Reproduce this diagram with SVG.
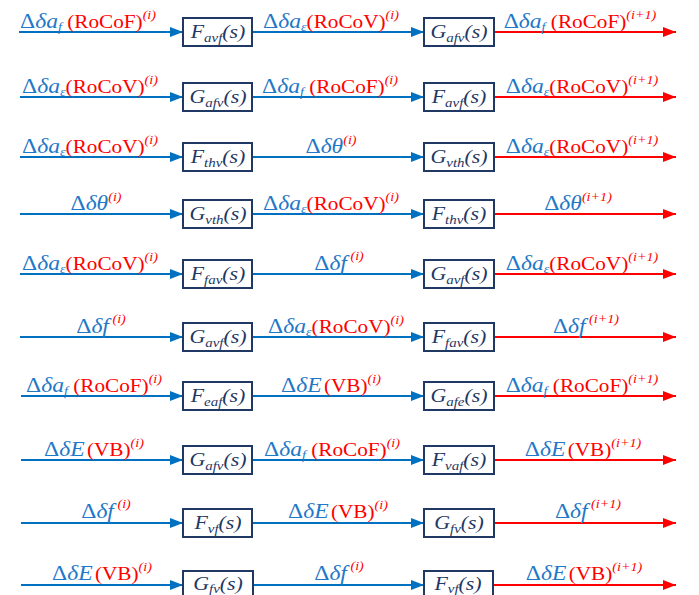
<svg xmlns="http://www.w3.org/2000/svg" width="699" height="595" viewBox="0 0 699 595">
<style>
.bg{fill:#ffffff}
.lnb{stroke:#0070C0;stroke-width:1.8;fill:none;marker-end:url(#ab)}
.lnr{stroke:#FF0000;stroke-width:1.8;fill:none;marker-end:url(#ar)}
.box{fill:#ffffff;stroke:#1F3864;stroke-width:2}
.bx{font-family:"Liberation Serif","Times New Roman",serif;font-style:italic;font-size:19px;fill:#1F3864}
.bx .sb{font-size:13px}
.lb{font-family:"Liberation Serif","Times New Roman",serif;font-size:18px}
.m{font-size:20px}
.b{fill:#1F78C8}
.r{fill:#FF0000}
.i{font-style:italic}
.sb{font-size:12px}
.sp{font-size:12px}
</style>
<defs>
<marker id="ab" markerUnits="userSpaceOnUse" markerWidth="13" markerHeight="10" refX="13" refY="5" orient="auto"><path d="M0,0 L13,5 L0,10 z" fill="#0070C0"/></marker>
<marker id="ar" markerUnits="userSpaceOnUse" markerWidth="13" markerHeight="10" refX="13" refY="5" orient="auto"><path d="M0,0 L13,5 L0,10 z" fill="#FF0000"/></marker>
</defs>
<rect class="bg" x="0" y="0" width="699" height="595"/>

<g id="connectors">
<line class="lnb" x1="19" y1="32" x2="183" y2="32"/>
<line class="lnb" x1="252" y1="32" x2="424" y2="32"/>
<line class="lnr" x1="494" y1="32" x2="676" y2="32"/>
<line class="lnb" x1="20" y1="97" x2="183" y2="97"/>
<line class="lnb" x1="252" y1="97" x2="424" y2="97"/>
<line class="lnr" x1="494" y1="97" x2="676" y2="97"/>
<line class="lnb" x1="20" y1="157" x2="183" y2="157"/>
<line class="lnb" x1="252" y1="157" x2="424" y2="157"/>
<line class="lnr" x1="494" y1="157" x2="676" y2="157"/>
<line class="lnb" x1="20" y1="214" x2="183" y2="214"/>
<line class="lnb" x1="252" y1="214" x2="424" y2="214"/>
<line class="lnr" x1="494" y1="214" x2="676" y2="214"/>
<line class="lnb" x1="20" y1="274" x2="183" y2="274"/>
<line class="lnb" x1="252" y1="274" x2="424" y2="274"/>
<line class="lnr" x1="494" y1="274" x2="676" y2="274"/>
<line class="lnb" x1="20" y1="337" x2="183" y2="337"/>
<line class="lnb" x1="252" y1="337" x2="424" y2="337"/>
<line class="lnr" x1="494" y1="337" x2="676" y2="337"/>
<line class="lnb" x1="21" y1="396" x2="183" y2="396"/>
<line class="lnb" x1="252" y1="396" x2="424" y2="396"/>
<line class="lnr" x1="494" y1="396" x2="676" y2="396"/>
<line class="lnb" x1="21" y1="460" x2="183" y2="460"/>
<line class="lnb" x1="252" y1="460" x2="424" y2="460"/>
<line class="lnr" x1="494" y1="460" x2="676" y2="460"/>
<line class="lnb" x1="21" y1="523" x2="183" y2="523"/>
<line class="lnb" x1="252" y1="523" x2="424" y2="523"/>
<line class="lnr" x1="494" y1="523" x2="676" y2="523"/>
<line class="lnb" x1="21" y1="585" x2="183" y2="585"/>
<line class="lnb" x1="252" y1="585" x2="424" y2="585"/>
<line class="lnr" x1="494" y1="585" x2="676" y2="585"/>

<!-- row 1 -->
<text class="lb" text-anchor="middle" transform="translate(88,28) scale(1.18,1)"><tspan class="b m">Δ</tspan><tspan class="b i m">δa</tspan><tspan class="b i sb" dy="3">f</tspan><tspan class="r" dy="-3"> (RoCoF)</tspan><tspan class="r i sp" dy="-9">(i)</tspan></text>
<text class="lb" text-anchor="middle" transform="translate(331,28) scale(1.18,1)"><tspan class="b m">Δ</tspan><tspan class="b i m">δa</tspan><tspan class="b i sb" dy="3">ε</tspan><tspan class="r" dy="-3">(RoCoV)</tspan><tspan class="r i sp" dy="-9">(i)</tspan></text>
<text class="lb" text-anchor="middle" transform="translate(580,28) scale(1.18,1)"><tspan class="b m">Δ</tspan><tspan class="b i m">δa</tspan><tspan class="b i sb" dy="3">f</tspan><tspan class="r" dy="-3"> (RoCoF)</tspan><tspan class="r i sp" dy="-9">(i+1)</tspan></text>
<!-- row 2 -->
<text class="lb" text-anchor="middle" transform="translate(90,93) scale(1.18,1)"><tspan class="b m">Δ</tspan><tspan class="b i m">δa</tspan><tspan class="b i sb" dy="3">ε</tspan><tspan class="r" dy="-3">(RoCoV)</tspan><tspan class="r i sp" dy="-9">(i)</tspan></text>
<text class="lb" text-anchor="middle" transform="translate(330,93) scale(1.18,1)"><tspan class="b m">Δ</tspan><tspan class="b i m">δa</tspan><tspan class="b i sb" dy="3">f</tspan><tspan class="r" dy="-3"> (RoCoF)</tspan><tspan class="r i sp" dy="-9">(i)</tspan></text>
<text class="lb" text-anchor="middle" transform="translate(582,93) scale(1.18,1)"><tspan class="b m">Δ</tspan><tspan class="b i m">δa</tspan><tspan class="b i sb" dy="3">ε</tspan><tspan class="r" dy="-3">(RoCoV)</tspan><tspan class="r i sp" dy="-9">(i+1)</tspan></text>
<!-- row 3 -->
<text class="lb" text-anchor="middle" transform="translate(90,153) scale(1.18,1)"><tspan class="b m">Δ</tspan><tspan class="b i m">δa</tspan><tspan class="b i sb" dy="3">ε</tspan><tspan class="r" dy="-3">(RoCoV)</tspan><tspan class="r i sp" dy="-9">(i)</tspan></text>
<text class="lb" text-anchor="middle" transform="translate(331,153) scale(1.18,1)"><tspan class="b m">Δ</tspan><tspan class="b i m">δθ</tspan><tspan class="r i sp" dy="-9">(i)</tspan></text>
<text class="lb" text-anchor="middle" transform="translate(582,153) scale(1.18,1)"><tspan class="b m">Δ</tspan><tspan class="b i m">δa</tspan><tspan class="b i sb" dy="3">ε</tspan><tspan class="r" dy="-3">(RoCoV)</tspan><tspan class="r i sp" dy="-9">(i+1)</tspan></text>
<!-- row 4 -->
<text class="lb" text-anchor="middle" transform="translate(96,210) scale(1.18,1)"><tspan class="b m">Δ</tspan><tspan class="b i m">δθ</tspan><tspan class="r i sp" dy="-9">(i)</tspan></text>
<text class="lb" text-anchor="middle" transform="translate(331,210) scale(1.18,1)"><tspan class="b m">Δ</tspan><tspan class="b i m">δa</tspan><tspan class="b i sb" dy="3">ε</tspan><tspan class="r" dy="-3">(RoCoV)</tspan><tspan class="r i sp" dy="-9">(i)</tspan></text>
<text class="lb" text-anchor="middle" transform="translate(578,210) scale(1.18,1)"><tspan class="b m">Δ</tspan><tspan class="b i m">δθ</tspan><tspan class="r i sp" dy="-9">(i+1)</tspan></text>
<!-- row 5 -->
<text class="lb" text-anchor="middle" transform="translate(90,270) scale(1.18,1)"><tspan class="b m">Δ</tspan><tspan class="b i m">δa</tspan><tspan class="b i sb" dy="3">ε</tspan><tspan class="r" dy="-3">(RoCoV)</tspan><tspan class="r i sp" dy="-9">(i)</tspan></text>
<text class="lb" text-anchor="middle" transform="translate(339,270) scale(1.18,1)"><tspan class="b m">Δ</tspan><tspan class="b i m">δf</tspan><tspan class="r i sp" dx="3" dy="-10">(i)</tspan></text>
<text class="lb" text-anchor="middle" transform="translate(582,270) scale(1.18,1)"><tspan class="b m">Δ</tspan><tspan class="b i m">δa</tspan><tspan class="b i sb" dy="3">ε</tspan><tspan class="r" dy="-3">(RoCoV)</tspan><tspan class="r i sp" dy="-9">(i+1)</tspan></text>
<!-- row 6 -->
<text class="lb" text-anchor="middle" transform="translate(101,333) scale(1.18,1)"><tspan class="b m">Δ</tspan><tspan class="b i m">δf</tspan><tspan class="r i sp" dx="3" dy="-10">(i)</tspan></text>
<text class="lb" text-anchor="middle" transform="translate(336,333) scale(1.18,1)"><tspan class="b m">Δ</tspan><tspan class="b i m">δa</tspan><tspan class="b i sb" dy="3">ε</tspan><tspan class="r" dy="-3">(RoCoV)</tspan><tspan class="r i sp" dy="-9">(i)</tspan></text>
<text class="lb" text-anchor="middle" transform="translate(586,333) scale(1.18,1)"><tspan class="b m">Δ</tspan><tspan class="b i m">δf</tspan><tspan class="r i sp" dx="3" dy="-10">(i+1)</tspan></text>
<!-- row 7 -->
<text class="lb" text-anchor="middle" transform="translate(94,392) scale(1.18,1)"><tspan class="b m">Δ</tspan><tspan class="b i m">δa</tspan><tspan class="b i sb" dy="3">f</tspan><tspan class="r" dy="-3"> (RoCoF)</tspan><tspan class="r i sp" dy="-9">(i)</tspan></text>
<text class="lb" text-anchor="middle" transform="translate(331,392) scale(1.18,1)"><tspan class="b m">Δ</tspan><tspan class="b i m">δE</tspan><tspan class="r" dx="2">(VB)</tspan><tspan class="r i sp" dy="-9">(i)</tspan></text>
<text class="lb" text-anchor="middle" transform="translate(582,392) scale(1.18,1)"><tspan class="b m">Δ</tspan><tspan class="b i m">δa</tspan><tspan class="b i sb" dy="3">f</tspan><tspan class="r" dy="-3"> (RoCoF)</tspan><tspan class="r i sp" dy="-9">(i+1)</tspan></text>
<!-- row 8 -->
<text class="lb" text-anchor="middle" transform="translate(94,456) scale(1.18,1)"><tspan class="b m">Δ</tspan><tspan class="b i m">δE</tspan><tspan class="r" dx="2">(VB)</tspan><tspan class="r i sp" dy="-9">(i)</tspan></text>
<text class="lb" text-anchor="middle" transform="translate(332,456) scale(1.18,1)"><tspan class="b m">Δ</tspan><tspan class="b i m">δa</tspan><tspan class="b i sb" dy="3">f</tspan><tspan class="r" dy="-3"> (RoCoF)</tspan><tspan class="r i sp" dy="-9">(i)</tspan></text>
<text class="lb" text-anchor="middle" transform="translate(583,456) scale(1.18,1)"><tspan class="b m">Δ</tspan><tspan class="b i m">δE</tspan><tspan class="r" dx="2">(VB)</tspan><tspan class="r i sp" dy="-9">(i+1)</tspan></text>
<!-- row 9 -->
<text class="lb" text-anchor="middle" transform="translate(106,518) scale(1.18,1)"><tspan class="b m">Δ</tspan><tspan class="b i m">δf</tspan><tspan class="r i sp" dx="3" dy="-10">(i)</tspan></text>
<text class="lb" text-anchor="middle" transform="translate(338,518) scale(1.18,1)"><tspan class="b m">Δ</tspan><tspan class="b i m">δE</tspan><tspan class="r" dx="2">(VB)</tspan><tspan class="r i sp" dy="-9">(i)</tspan></text>
<text class="lb" text-anchor="middle" transform="translate(588,518) scale(1.18,1)"><tspan class="b m">Δ</tspan><tspan class="b i m">δf</tspan><tspan class="r i sp" dx="3" dy="-10">(i+1)</tspan></text>
<!-- row 10 -->
<text class="lb" text-anchor="middle" transform="translate(102,580) scale(1.18,1)"><tspan class="b m">Δ</tspan><tspan class="b i m">δE</tspan><tspan class="r" dx="2">(VB)</tspan><tspan class="r i sp" dy="-9">(i)</tspan></text>
<text class="lb" text-anchor="middle" transform="translate(339,580) scale(1.18,1)"><tspan class="b m">Δ</tspan><tspan class="b i m">δf</tspan><tspan class="r i sp" dx="3" dy="-10">(i)</tspan></text>
<text class="lb" text-anchor="middle" transform="translate(584,580) scale(1.18,1)"><tspan class="b m">Δ</tspan><tspan class="b i m">δE</tspan><tspan class="r" dx="2">(VB)</tspan><tspan class="r i sp" dy="-9">(i+1)</tspan></text>
</g>

<g id="n1a"><rect class="box" x="183" y="18" width="69" height="28"/><text class="bx" text-anchor="middle" transform="translate(218,38) scale(1.15,1)">F<tspan class="sb" dy="4">avf</tspan><tspan dy="-4">(s)</tspan></text></g>
<g id="n1b"><rect class="box" x="424" y="18" width="70" height="28"/><text class="bx" text-anchor="middle" transform="translate(459,38) scale(1.15,1)">G<tspan class="sb" dy="4">afv</tspan><tspan dy="-4">(s)</tspan></text></g>
<g id="n2a"><rect class="box" x="183" y="83" width="69" height="28"/><text class="bx" text-anchor="middle" transform="translate(218,103) scale(1.15,1)">G<tspan class="sb" dy="4">afv</tspan><tspan dy="-4">(s)</tspan></text></g>
<g id="n2b"><rect class="box" x="424" y="83" width="70" height="28"/><text class="bx" text-anchor="middle" transform="translate(459,103) scale(1.15,1)">F<tspan class="sb" dy="4">avf</tspan><tspan dy="-4">(s)</tspan></text></g>
<g id="n3a"><rect class="box" x="183" y="143" width="69" height="28"/><text class="bx" text-anchor="middle" transform="translate(218,163) scale(1.15,1)">F<tspan class="sb" dy="4">thv</tspan><tspan dy="-4">(s)</tspan></text></g>
<g id="n3b"><rect class="box" x="424" y="143" width="70" height="28"/><text class="bx" text-anchor="middle" transform="translate(459,163) scale(1.15,1)">G<tspan class="sb" dy="4">vth</tspan><tspan dy="-4">(s)</tspan></text></g>
<g id="n4a"><rect class="box" x="183" y="200" width="69" height="28"/><text class="bx" text-anchor="middle" transform="translate(218,220) scale(1.15,1)">G<tspan class="sb" dy="4">vth</tspan><tspan dy="-4">(s)</tspan></text></g>
<g id="n4b"><rect class="box" x="424" y="200" width="70" height="28"/><text class="bx" text-anchor="middle" transform="translate(459,220) scale(1.15,1)">F<tspan class="sb" dy="4">thv</tspan><tspan dy="-4">(s)</tspan></text></g>
<g id="n5a"><rect class="box" x="183" y="260" width="69" height="28"/><text class="bx" text-anchor="middle" transform="translate(218,280) scale(1.15,1)">F<tspan class="sb" dy="4">fav</tspan><tspan dy="-4">(s)</tspan></text></g>
<g id="n5b"><rect class="box" x="424" y="260" width="70" height="28"/><text class="bx" text-anchor="middle" transform="translate(459,280) scale(1.15,1)">G<tspan class="sb" dy="4">avf</tspan><tspan dy="-4">(s)</tspan></text></g>
<g id="n6a"><rect class="box" x="183" y="323" width="69" height="28"/><text class="bx" text-anchor="middle" transform="translate(218,343) scale(1.15,1)">G<tspan class="sb" dy="4">avf</tspan><tspan dy="-4">(s)</tspan></text></g>
<g id="n6b"><rect class="box" x="424" y="323" width="70" height="28"/><text class="bx" text-anchor="middle" transform="translate(459,343) scale(1.15,1)">F<tspan class="sb" dy="4">fav</tspan><tspan dy="-4">(s)</tspan></text></g>
<g id="n7a"><rect class="box" x="183" y="382" width="69" height="28"/><text class="bx" text-anchor="middle" transform="translate(218,402) scale(1.15,1)">F<tspan class="sb" dy="4">eaf</tspan><tspan dy="-4">(s)</tspan></text></g>
<g id="n7b"><rect class="box" x="424" y="382" width="70" height="28"/><text class="bx" text-anchor="middle" transform="translate(459,402) scale(1.15,1)">G<tspan class="sb" dy="4">afe</tspan><tspan dy="-4">(s)</tspan></text></g>
<g id="n8a"><rect class="box" x="183" y="446" width="69" height="28"/><text class="bx" text-anchor="middle" transform="translate(218,466) scale(1.15,1)">G<tspan class="sb" dy="4">afv</tspan><tspan dy="-4">(s)</tspan></text></g>
<g id="n8b"><rect class="box" x="424" y="446" width="70" height="28"/><text class="bx" text-anchor="middle" transform="translate(459,466) scale(1.15,1)">F<tspan class="sb" dy="4">vaf</tspan><tspan dy="-4">(s)</tspan></text></g>
<g id="n9a"><rect class="box" x="183" y="509" width="69" height="28"/><text class="bx" text-anchor="middle" transform="translate(218,529) scale(1.15,1)">F<tspan class="sb" dy="4">vf</tspan><tspan dy="-4">(s)</tspan></text></g>
<g id="n9b"><rect class="box" x="424" y="509" width="70" height="28"/><text class="bx" text-anchor="middle" transform="translate(459,529) scale(1.15,1)">G<tspan class="sb" dy="4">fv</tspan><tspan dy="-4">(s)</tspan></text></g>
<g id="n10a"><rect class="box" x="183" y="571" width="70" height="28"/><text class="bx" text-anchor="middle" transform="translate(218,590) scale(1.15,1)">G<tspan class="sb" dy="3">fv</tspan><tspan dy="-3">(s)</tspan></text></g>
<g id="n10b"><rect class="box" x="424" y="571" width="69" height="28"/><text class="bx" text-anchor="middle" transform="translate(458,590) scale(1.15,1)">F<tspan class="sb" dy="3">vf</tspan><tspan dy="-3">(s)</tspan></text></g>
</svg>
